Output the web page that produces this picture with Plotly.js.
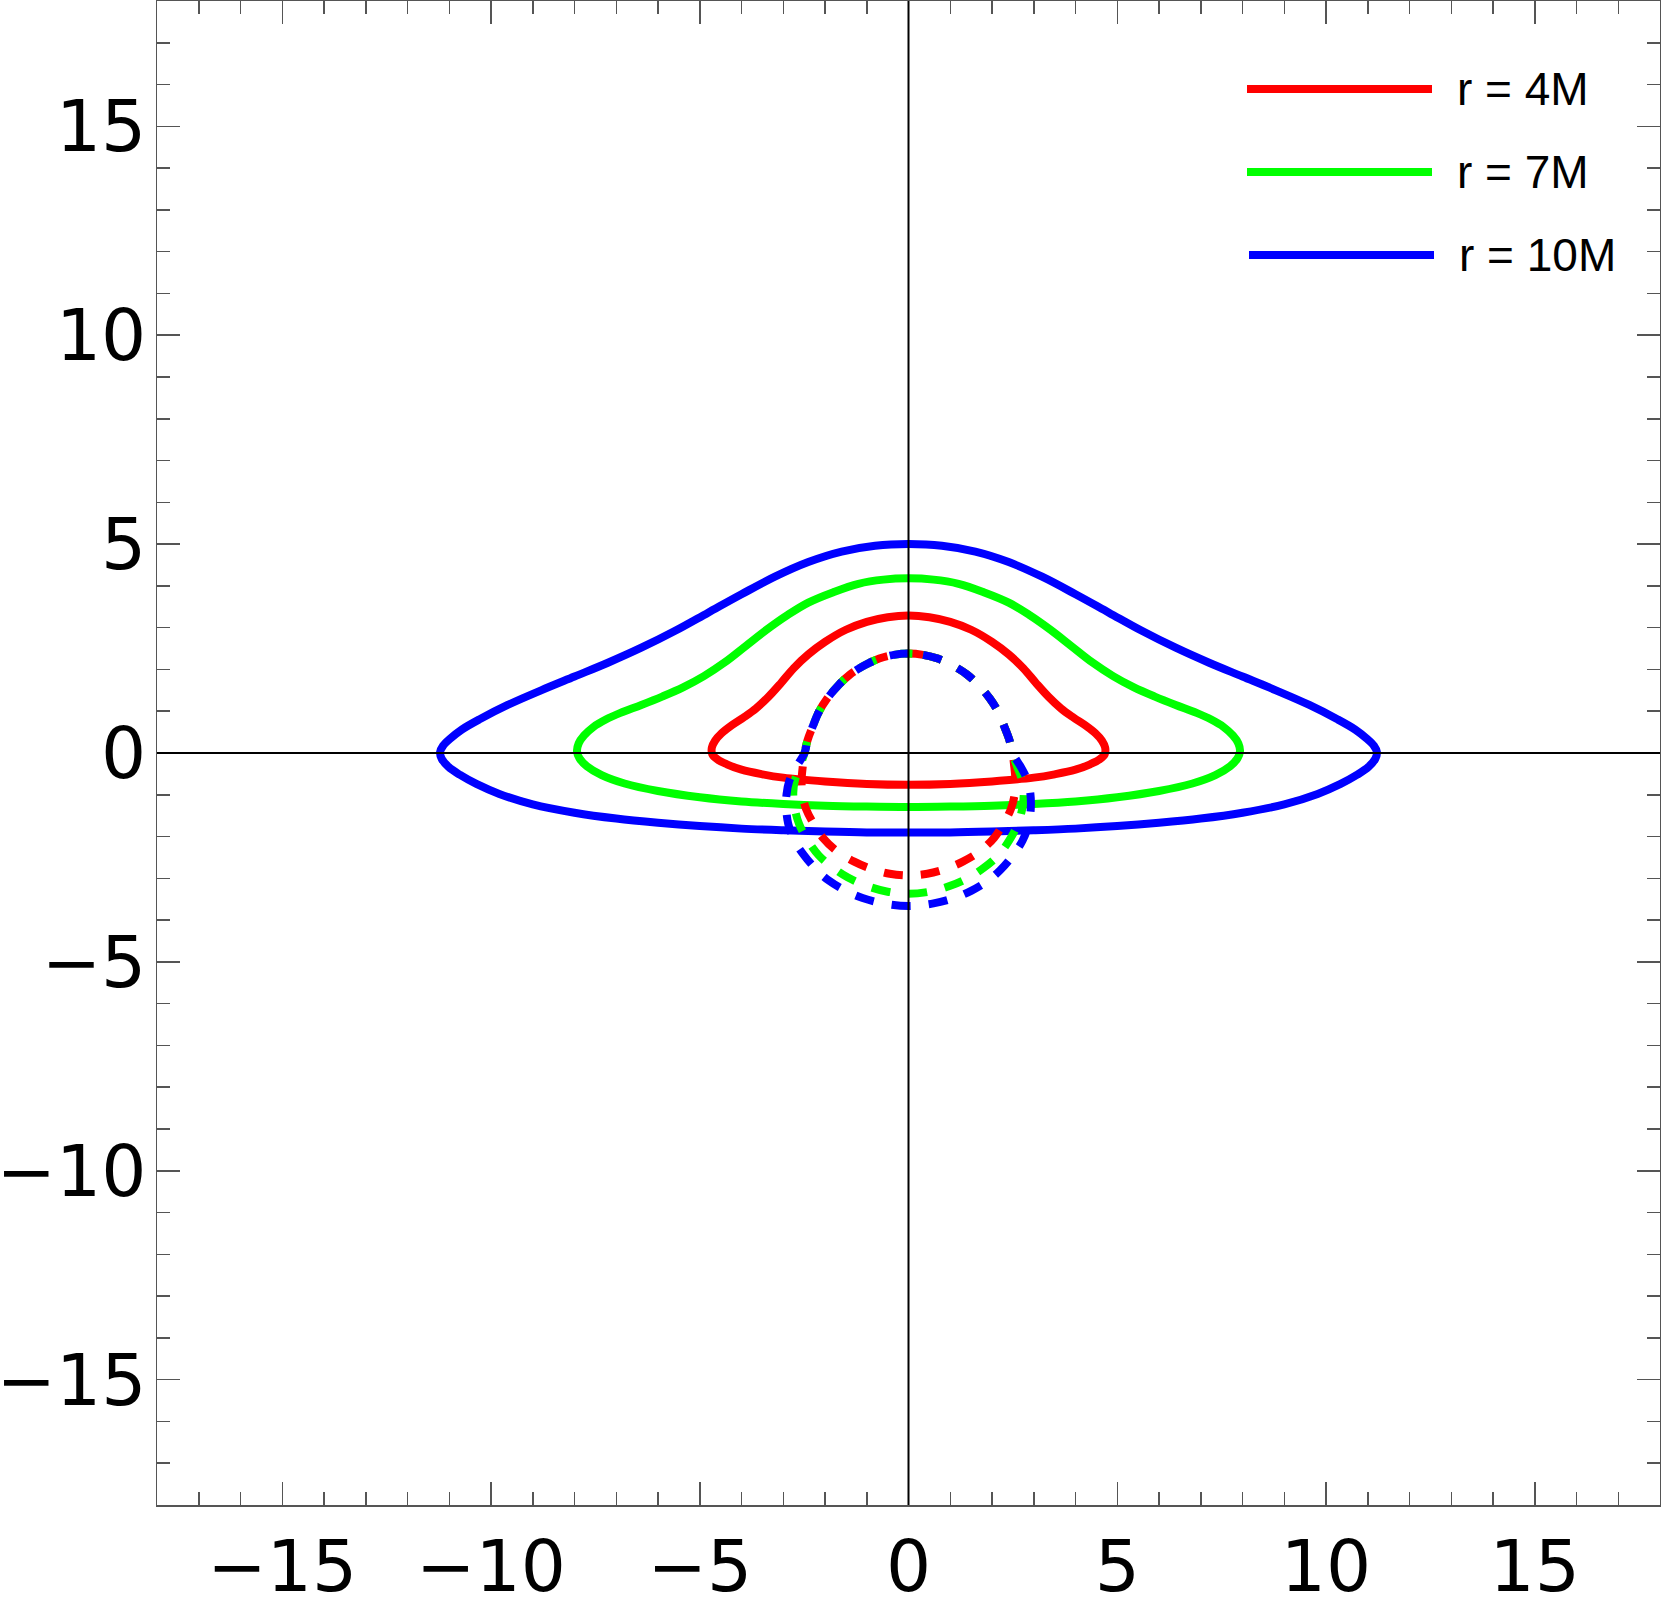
<!DOCTYPE html>
<html>
<head>
<meta charset="utf-8">
<script src="https://cdn.plot.ly/plotly-3.0.1.min.js"></script>
<style>
  html, body { margin: 0; padding: 0; background: #fff; }
  #plot { width: 1661px; height: 1597px; }
</style>
</head>
<body>
<div id="plot"></div>
<script>
// series names / colours
const labels = ["r = 4M", "r = 7M", "r = 10M"];
const colors = ["#ff0000", "#00ff00", "#0000ff"];

// direct images (solid), closed loops starting at the top, clockwise
const solid4X = [0, 0.5, 1.0, 1.5, 2.0, 2.4, 2.75, 3.05, 3.35, 3.65, 3.95, 4.25, 4.48, 4.63, 4.71, 4.7, 4.58, 4.35, 4.0, 3.5, 3.0, 2.0, 1.0, 0,
  -1.0, -2.0, -3.0, -3.5, -4.0, -4.35, -4.58, -4.7, -4.71, -4.63, -4.48, -4.25, -3.95, -3.65, -3.35, -3.05, -2.75, -2.4, -2.0, -1.5, -1.0, -0.5, 0];
const solid4Y = [3.29, 3.25, 3.14, 2.95, 2.66, 2.36, 2.03, 1.68, 1.35, 1.07, 0.85, 0.65, 0.47, 0.3, 0.13, -0.03, -0.15, -0.27, -0.4, -0.51, -0.59, -0.68, -0.74, -0.76,
  -0.74, -0.68, -0.59, -0.51, -0.4, -0.27, -0.15, -0.03, 0.13, 0.3, 0.47, 0.65, 0.85, 1.07, 1.35, 1.68, 2.03, 2.36, 2.66, 2.95, 3.14, 3.25, 3.29];

const solid7X = [0, 0.6, 1.2, 1.8, 2.4, 2.9, 3.4, 3.9, 4.4, 4.9, 5.4, 5.9, 6.4, 6.9, 7.25, 7.55, 7.77, 7.9, 7.94, 7.88, 7.7, 7.35, 6.8, 6.0, 5.0, 4.0, 3.0, 2.0, 1.0, 0,
  -1.0, -2.0, -3.0, -4.0, -5.0, -6.0, -6.8, -7.35, -7.7, -7.88, -7.94, -7.9, -7.77, -7.55, -7.25, -6.9, -6.4, -5.9, -5.4, -4.9, -4.4, -3.9, -3.4, -2.9, -2.4, -1.8, -1.2, -0.6, 0];
const solid7Y = [4.18, 4.15, 4.05, 3.85, 3.6, 3.3, 2.95, 2.56, 2.17, 1.84, 1.57, 1.35, 1.15, 0.96, 0.8, 0.62, 0.42, 0.23, 0.04, -0.13, -0.32, -0.53, -0.73, -0.91, -1.06, -1.16, -1.22, -1.26, -1.28, -1.29,
  -1.28, -1.26, -1.22, -1.16, -1.06, -0.91, -0.73, -0.53, -0.32, -0.13, 0.04, 0.23, 0.42, 0.62, 0.8, 0.96, 1.15, 1.35, 1.57, 1.84, 2.17, 2.56, 2.95, 3.3, 3.6, 3.85, 4.05, 4.15, 4.18];

const solid10X = [0, 0.8, 1.6, 2.4, 3.2, 4.0, 4.8, 5.6, 6.4, 7.2, 8.0, 8.8, 9.6, 10.25, 10.7, 10.98, 11.15, 11.22, 11.18, 11.02, 10.75, 10.35, 9.8, 9.0, 8.0, 7.0, 6.0, 5.0, 4.0, 3.0, 2.0, 1.0, 0,
  -1.0, -2.0, -3.0, -4.0, -5.0, -6.0, -7.0, -8.0, -9.0, -9.8, -10.35, -10.75, -11.02, -11.18, -11.22, -11.15, -10.98, -10.7, -10.25, -9.6, -8.8, -8.0, -7.2, -6.4, -5.6, -4.8, -4.0, -3.2, -2.4, -1.6, -0.8, 0];
const solid10Y = [5.0, 4.96, 4.82, 4.57, 4.22, 3.8, 3.36, 2.92, 2.52, 2.16, 1.83, 1.5, 1.15, 0.82, 0.56, 0.34, 0.17, 0.02, -0.14, -0.33, -0.52, -0.74, -0.98, -1.23, -1.43, -1.57, -1.67, -1.75, -1.81, -1.85, -1.88, -1.9, -1.9,
  -1.9, -1.88, -1.85, -1.81, -1.75, -1.67, -1.57, -1.43, -1.23, -0.98, -0.74, -0.52, -0.33, -0.14, 0.02, 0.17, 0.34, 0.56, 0.82, 1.15, 1.5, 1.83, 2.16, 2.52, 2.92, 3.36, 3.8, 4.22, 4.57, 4.82, 4.96, 5.0];

// secondary images (dashed), start at the top, clockwise; upper arc is shared
const dash4X = [0, 0.35, 0.7, 1.05, 1.4, 1.7, 1.95, 2.15, 2.3, 2.42, 2.49,
  2.53, 2.56, 2.54, 2.45, 2.28, 2.05, 1.7, 1.3, 0.9, 0.45, 0,
  -0.45, -0.9, -1.3, -1.7, -2.05, -2.28, -2.45, -2.54, -2.56, -2.53,
  -2.49, -2.42, -2.3, -2.15, -1.95, -1.7, -1.4, -1.05, -0.7, -0.35, 0];
const dash4Y = [2.38, 2.35, 2.26, 2.1, 1.88, 1.6, 1.3, 0.98, 0.62, 0.3, 0.0,
  -0.3, -0.65, -1.0, -1.35, -1.68, -2.03, -2.36, -2.6, -2.77, -2.89, -2.93,
  -2.89, -2.77, -2.6, -2.36, -2.03, -1.68, -1.35, -1.0, -0.65, -0.3,
  0.0, 0.3, 0.62, 0.98, 1.3, 1.6, 1.88, 2.1, 2.26, 2.35, 2.38];

const dash7X = [0, 0.35, 0.7, 1.05, 1.4, 1.7, 1.95, 2.15, 2.3, 2.42, 2.49,
  2.6, 2.72, 2.76, 2.73, 2.62, 2.42, 2.15, 1.8, 1.45, 1.0, 0.5, 0,
  -0.5, -1.0, -1.45, -1.8, -2.15, -2.42, -2.62, -2.73, -2.76, -2.72, -2.6,
  -2.49, -2.42, -2.3, -2.15, -1.95, -1.7, -1.4, -1.05, -0.7, -0.35, 0];
const dash7Y = [2.38, 2.35, 2.26, 2.1, 1.88, 1.6, 1.3, 0.98, 0.62, 0.3, 0.0,
  -0.32, -0.65, -0.95, -1.3, -1.7, -2.08, -2.45, -2.75, -2.98, -3.18, -3.32, -3.37,
  -3.32, -3.18, -2.98, -2.75, -2.45, -2.08, -1.7, -1.3, -0.95, -0.65, -0.32,
  0.0, 0.3, 0.62, 0.98, 1.3, 1.6, 1.88, 2.1, 2.26, 2.35, 2.38];

const dash10X = [0, 0.35, 0.7, 1.05, 1.4, 1.7, 1.95, 2.15, 2.3, 2.42, 2.49,
  2.7, 2.86, 2.92, 2.93, 2.88, 2.73, 2.5, 2.2, 1.9, 1.5, 1.1, 0.6, 0,
  -0.6, -1.1, -1.5, -1.9, -2.2, -2.5, -2.73, -2.88, -2.93, -2.92, -2.86, -2.7,
  -2.49, -2.42, -2.3, -2.15, -1.95, -1.7, -1.4, -1.05, -0.7, -0.35, 0];
const dash10Y = [2.38, 2.35, 2.26, 2.1, 1.88, 1.6, 1.3, 0.98, 0.62, 0.3, 0.0,
  -0.35, -0.68, -0.98, -1.3, -1.7, -2.1, -2.45, -2.8, -3.06, -3.3, -3.47, -3.6, -3.66,
  -3.6, -3.47, -3.3, -3.06, -2.8, -2.45, -2.1, -1.7, -1.3, -0.98, -0.68, -0.35,
  0.0, 0.3, 0.62, 0.98, 1.3, 1.6, 1.88, 2.1, 2.26, 2.35, 2.38];

const W = 1661, H = 1597;
const M = { l: 157, r: 1, t: 1, b: 92 };

function curve(x, y, color, dashed){
  return {
    type: "scatter", mode: "lines", x: x, y: y,
    line: { color: color, width: 8, shape: "spline", smoothing: 1, dash: dashed ? "19px,18px" : "solid" },
    showlegend: false, hoverinfo: "skip"
  };
}

const traces = [
  curve(solid4X, solid4Y, colors[0], false),
  curve(solid7X, solid7Y, colors[1], false),
  curve(solid10X, solid10Y, colors[2], false),
  curve(dash4X, dash4Y, colors[0], true),
  curve(dash7X, dash7Y, colors[1], true),
  curve(dash10X, dash10Y, colors[2], true)
];

// hand-drawn legend (long sample lines)
const pw = W - M.l - M.r, ph = H - M.t - M.b;
const px = v => (v - M.l) / pw;
const py = v => (H - M.b - v) / ph;
const legRows = [89, 172, 255];
const shapes = [
  { type: "line", xref: "x", x0: 0, x1: 0, yref: "paper", y0: 0, y1: 1, line: { color: "#000", width: 2 }, layer: "above" },
  { type: "line", yref: "y", y0: 0, y1: 0, xref: "paper", x0: 0, x1: 1, line: { color: "#000", width: 2 }, layer: "above" }
];
const annotations = [];
labels.forEach((lab, i) => {
  const off = i === 2 ? 2 : 0;
  shapes.push({ type: "line", xref: "paper", yref: "paper",
    x0: px(1247 + off), x1: px(1432 + off), y0: py(legRows[i]), y1: py(legRows[i]),
    line: { color: colors[i], width: 8 } });
  annotations.push({ xref: "paper", yref: "paper", x: px(1455 + off), y: py(legRows[i]),
    xanchor: "left", yanchor: "middle", showarrow: false, text: lab,
    font: { family: "Liberation Sans, Arial, sans-serif", size: 46, color: "#000" } });
});

const axisBase = {
  range: [-18, 18], tick0: 0, dtick: 5,
  ticks: "inside", ticklen: 23, tickwidth: 1.5, tickcolor: "#555",
  showline: true, linecolor: "#555", linewidth: 1.5, mirror: "ticks",
  showgrid: false, zeroline: false, automargin: false,
  tickfont: { family: "DejaVu Sans, sans-serif", size: 71, color: "#000" },
  minor: { ticks: "inside", ticklen: 13, tickwidth: 1.5, tickcolor: "#555", dtick: 1, showgrid: false },
  fixedrange: true
};

const layout = {
  width: W, height: H,
  margin: M,
  paper_bgcolor: "#fff", plot_bgcolor: "#fff",
  showlegend: false,
  xaxis: Object.assign({}, axisBase, { ticklabelstandoff: -1 }),
  yaxis: Object.assign({}, axisBase, { ticklabelstandoff: -5 }),
  shapes: shapes,
  annotations: annotations
};

Plotly.newPlot("plot", traces, layout, { staticPlot: true });
</script>
</body>
</html>
